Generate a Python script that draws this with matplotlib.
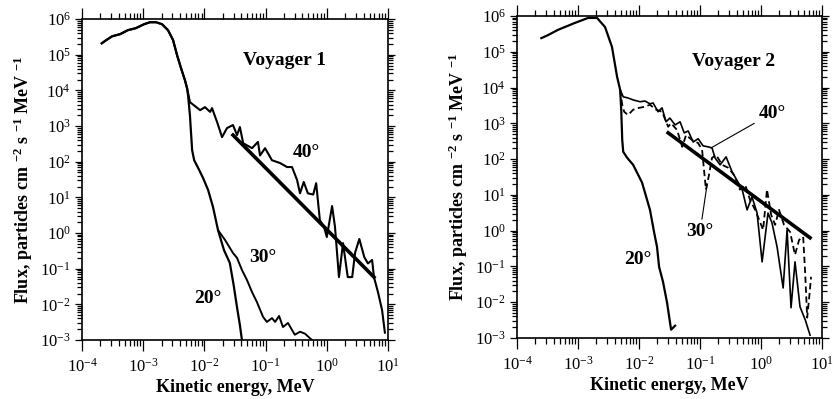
import matplotlib
matplotlib.use("Agg")
import matplotlib.pyplot as plt
import numpy as np
from matplotlib.ticker import LogLocator, NullFormatter

plt.rcParams["font.family"] = ["Liberation Serif", "DejaVu Serif"]
plt.rcParams["mathtext.fontset"] = "custom"
plt.rcParams["mathtext.rm"] = "Liberation Serif"
plt.rcParams["mathtext.it"] = "Liberation Serif:italic"
plt.rcParams["mathtext.bf"] = "Liberation Serif:bold"

# ---------------------------------------------------------------- Voyager 1
v1_common_e = [2.1e-4, 2.5e-4, 3.1e-4, 4.2e-4, 5.6e-4, 7.6e-4, 1.03e-3, 1.29e-3,
               1.62e-3, 2.03e-3, 2.54e-3, 3.07e-3, 3.57e-3, 4.15e-3, 4.8e-3, 5.2e-3]
v1_common_f = [2.1e5, 2.6e5, 3.3e5, 3.8e5, 4.9e5, 5.6e5, 7.2e5, 8.2e5,
               8.2e5, 7.2e5, 4.9e5, 2.6e5, 9.8e4, 4.2e4, 1.95e4, 1.16e4]

# 20 / 30 deg shared steep drop
v1_low_e = [5.4e-3, 5.8e-3, 6.0e-3, 6.3e-3, 6.8e-3, 7.9e-3, 9.5e-3, 1.15e-2, 1.38e-2, 1.67e-2]
v1_low_f = [7.4e3, 2.0e3, 770, 210, 110, 67, 35, 16, 5.4, 1.2]

v1_20_e = [2.09e-2, 2.6e-2, 3.0e-2, 3.4e-2, 3.8e-2, 4.1e-2]
v1_20_f = [0.33, 0.145, 0.035, 8.5e-3, 2.6e-3, 1.0e-3]

v1_30_e = [2.17e-2, 2.93e-2, 3.41e-2, 4.1e-2, 4.96e-2, 6.0e-2, 7.2e-2, 9.1e-2, 0.105,
           0.127, 0.143, 0.166, 0.192, 0.232, 0.30, 0.365, 0.44, 0.57]
v1_30_f = [0.64, 0.275, 0.2, 0.092, 0.048, 0.022, 0.0116, 4.4e-3, 3.2e-3,
           4.1e-3, 3.2e-3, 4.7e-3, 2.3e-3, 3.0e-3, 1.4e-3, 1.7e-3, 1.5e-3, 1.0e-3]

v1_40_e = [5.8e-3, 8.5e-3, 1.02e-2, 1.24e-2, 1.33e-2, 1.61e-2, 1.94e-2, 2.34e-2, 2.93e-2,
           3.41e-2, 3.8e-2, 4.3e-2, 6.0e-2, 7.5e-2, 8.1e-2, 9.8e-2, 0.127, 0.172, 0.224,
           0.27, 0.326, 0.365, 0.42, 0.49, 0.60, 0.67, 0.77, 0.90, 1.0, 1.22, 1.36,
           1.58, 1.84, 2.2, 2.6, 2.9, 3.4, 4.1, 4.7, 5.5, 5.9, 6.9, 8.0, 8.9]
v1_40_f = [4.7e3, 2.8e3, 3.4e3, 2.5e3, 3.2e3, 1.3e3, 490, 880, 1.07e3,
           560, 940, 330, 240, 360, 150, 240, 110, 92, 71,
           71, 31, 13, 27, 13, 12, 25, 2.3, 1.5, 0.77, 5.7, 1.5,
           0.058, 0.52, 0.058, 0.058, 0.28, 0.68, 0.21, 0.14, 0.175, 0.058, 0.021, 6.9e-3, 1.6e-3]

v1_fit_e = [2.93e-2, 5.9]
v1_fit_f = [560, 0.058]

# ---------------------------------------------------------------- Voyager 2
v2_common_e = [2.5e-4, 3.2e-4, 4.7e-4, 8.9e-4, 1.46e-3, 2.05e-3, 2.77e-3, 3.6e-3, 4.36e-3, 4.9e-3]
v2_common_f = [2.4e5, 2.9e5, 4.1e5, 6.4e5, 8.8e5, 8.8e5, 4.9e5, 1.36e5, 2.0e4, 8.6e3]

v2_20_e = [5.1e-3, 5.3e-3, 5.5e-3, 6.4e-3, 8.0e-3, 1.12e-2, 1.51e-2, 1.76e-2, 1.97e-2,
           2.13e-2, 2.47e-2, 2.88e-2, 3.35e-2, 3.9e-2]
v2_20_f = [2.4e3, 340, 160, 108, 69, 22, 3.8, 0.92, 0.35,
           0.097, 0.037, 9.6e-3, 1.7e-3, 2.2e-3]

v2_40_e = [5.5e-3, 6.6e-3, 8.0e-3, 1.04e-2, 1.25e-2, 1.51e-2, 1.7e-2, 2.05e-2, 2.38e-2,
           2.77e-2, 3.2e-2, 3.9e-2, 4.7e-2, 5.5e-2, 6.4e-2, 7.7e-2, 9.3e-2, 0.112, 0.135,
           0.157, 0.176, 0.213, 0.267, 0.335, 0.40, 0.49, 0.59, 0.71, 0.86, 1.04, 1.30,
           1.51, 1.83, 2.3, 2.67, 3.1, 3.6, 4.35, 5.3, 6.35]
v2_40_f = [5.5e3, 5.1e3, 4.5e3, 4.0e3, 4.2e3, 3.5e3, 3.7e3, 2.1e3, 2.7e3,
           1.1e3, 1.4e3, 900, 1.1e3, 540, 610, 300, 370, 234, 220,
           205, 108, 69, 115, 44, 26, 14, 3.8, 8.8, 3.1, 0.134, 3.1,
           1.65, 0.35, 0.025, 1.05, 7e-3, 0.134, 7.4e-3, 3.2e-3, 1.2e-3]

v2_30_e = [5.3e-3, 5.7e-3, 6.6e-3, 8.0e-3, 1.0e-2, 1.25e-2, 1.51e-2, 1.9e-2, 2.38e-2,
           3.0e-2, 3.35e-2, 4.2e-2, 5.1e-2, 5.9e-2, 7.4e-2, 9.3e-2, 0.108, 0.116, 0.125,
           0.14, 0.157, 0.183, 0.23, 0.29, 0.36, 0.45, 0.55, 0.66, 0.80, 0.96, 1.08,
           1.25, 1.46, 1.70, 1.97, 2.38, 2.99, 3.6, 4.2, 4.9, 5.3, 5.7, 6.1, 6.6]
v2_30_f = [3.3e3, 2.1e3, 1.7e3, 2.4e3, 2.7e3, 2.9e3, 3.3e3, 2.4e3, 2.1e3,
           800, 1.0e3, 650, 220, 470, 340, 280, 180, 50, 14,
           36, 108, 131, 69, 57, 36, 14, 19, 7.2, 3.8, 1.76, 1.05,
           14, 2.8, 1.45, 3.8, 1.45, 0.92, 0.21, 0.55, 0.67, 0.058, 3.7e-3, 0.0117, 0.051]

v2_fit_e = [0.030, 6.35]
v2_fit_f = [540, 0.63]


def style_axes(ax):
    ax.set_xscale("log")
    ax.set_yscale("log")
    ax.set_xlim(1e-4, 1e1)
    ax.set_ylim(1e-3, 1e6)
    ax.xaxis.set_major_locator(LogLocator(base=10, numticks=20))
    ax.xaxis.set_minor_locator(LogLocator(base=10, subs=np.arange(2, 10), numticks=20))
    ax.yaxis.set_major_locator(LogLocator(base=10, numticks=20))
    ax.yaxis.set_minor_locator(LogLocator(base=10, subs=np.arange(2, 10), numticks=20))
    ax.xaxis.set_minor_formatter(NullFormatter())
    ax.yaxis.set_minor_formatter(NullFormatter())
    ax.tick_params(which="both", direction="out", top=True, right=True,
                   labelsize=12, width=0.9)
    ax.tick_params(axis="x", which="major", length=8, pad=5)
    ax.tick_params(axis="x", which="minor", length=4)
    ax.tick_params(axis="y", which="major", length=5, pad=3)
    ax.tick_params(axis="y", which="minor", length=3.5)
    for sp in ax.spines.values():
        sp.set_linewidth(1.2)
    ax.set_xlabel("Kinetic energy, MeV", fontsize=13, fontweight="bold", labelpad=2)
    ax.set_ylabel(r"Flux, particles cm $^{\mathbf{-2}}$ s $^{\mathbf{-1}}$ MeV $^{\mathbf{-1}}$",
                  fontsize=13, fontweight="bold", labelpad=4)


fig = plt.figure(figsize=(8.38, 3.99), dpi=100)
ax1 = fig.add_axes([0.0979, 0.148, 0.3651, 0.804])
ax2 = fig.add_axes([0.617, 0.153, 0.364, 0.807])

# Voyager 1
c = "black"
ax1.plot(v1_common_e + v1_40_e, v1_common_f + v1_40_f, color=c, lw=1.5)
ax1.plot(v1_common_e + v1_low_e + v1_20_e, v1_common_f + v1_low_f + v1_20_f, color=c, lw=1.6)
ax1.plot(v1_low_e[-1:] + v1_30_e, v1_low_f[-1:] + v1_30_f, color=c, lw=1.4)
ax1.plot(v1_fit_e, v1_fit_f, color=c, lw=2.6)
style_axes(ax1)
tkw = dict(fontsize=14, fontweight="bold", ha="center", va="center")
ax1.text(0.207, 7.1e4, "Voyager 1", **tkw)
ax1.text(0.46, 186, "40°", **tkw)
ax1.text(0.091, 0.21, "30°", **tkw)
ax1.text(0.0115, 0.015, "20°", **tkw)

# Voyager 2
ax2.plot(v2_common_e + v2_20_e, v2_common_f + v2_20_f, color=c, lw=1.6)
ax2.plot(v2_common_e[-1:] + v2_40_e, v2_common_f[-1:] + v2_40_f, color=c, lw=1.2)
ax2.plot(v2_common_e[-1:] + v2_30_e, v2_common_f[-1:] + v2_30_f, color=c, lw=1.3,
         ls=(0, (3.5, 2)))
ax2.plot(v2_fit_e, v2_fit_f, color=c, lw=2.6)
style_axes(ax2)
ax2.text(0.36, 5.5e4, "Voyager 2", **tkw)
ax2.annotate("40°", xy=(0.151, 205), xytext=(0.9, 1.9e3), fontsize=14, fontweight="bold",
             ha="left", va="center",
             arrowprops=dict(arrowstyle="-", color=c, lw=0.8, shrinkA=1, shrinkB=0))
ax2.annotate("30°", xy=(0.13, 19), xytext=(0.1, 0.92), fontsize=14, fontweight="bold",
             ha="center", va="center",
             arrowprops=dict(arrowstyle="-", color=c, lw=0.8, shrinkA=1, shrinkB=0))
ax2.text(9.6e-3, 0.153, "20°", **tkw)

fig.savefig("out.png", dpi=100)
